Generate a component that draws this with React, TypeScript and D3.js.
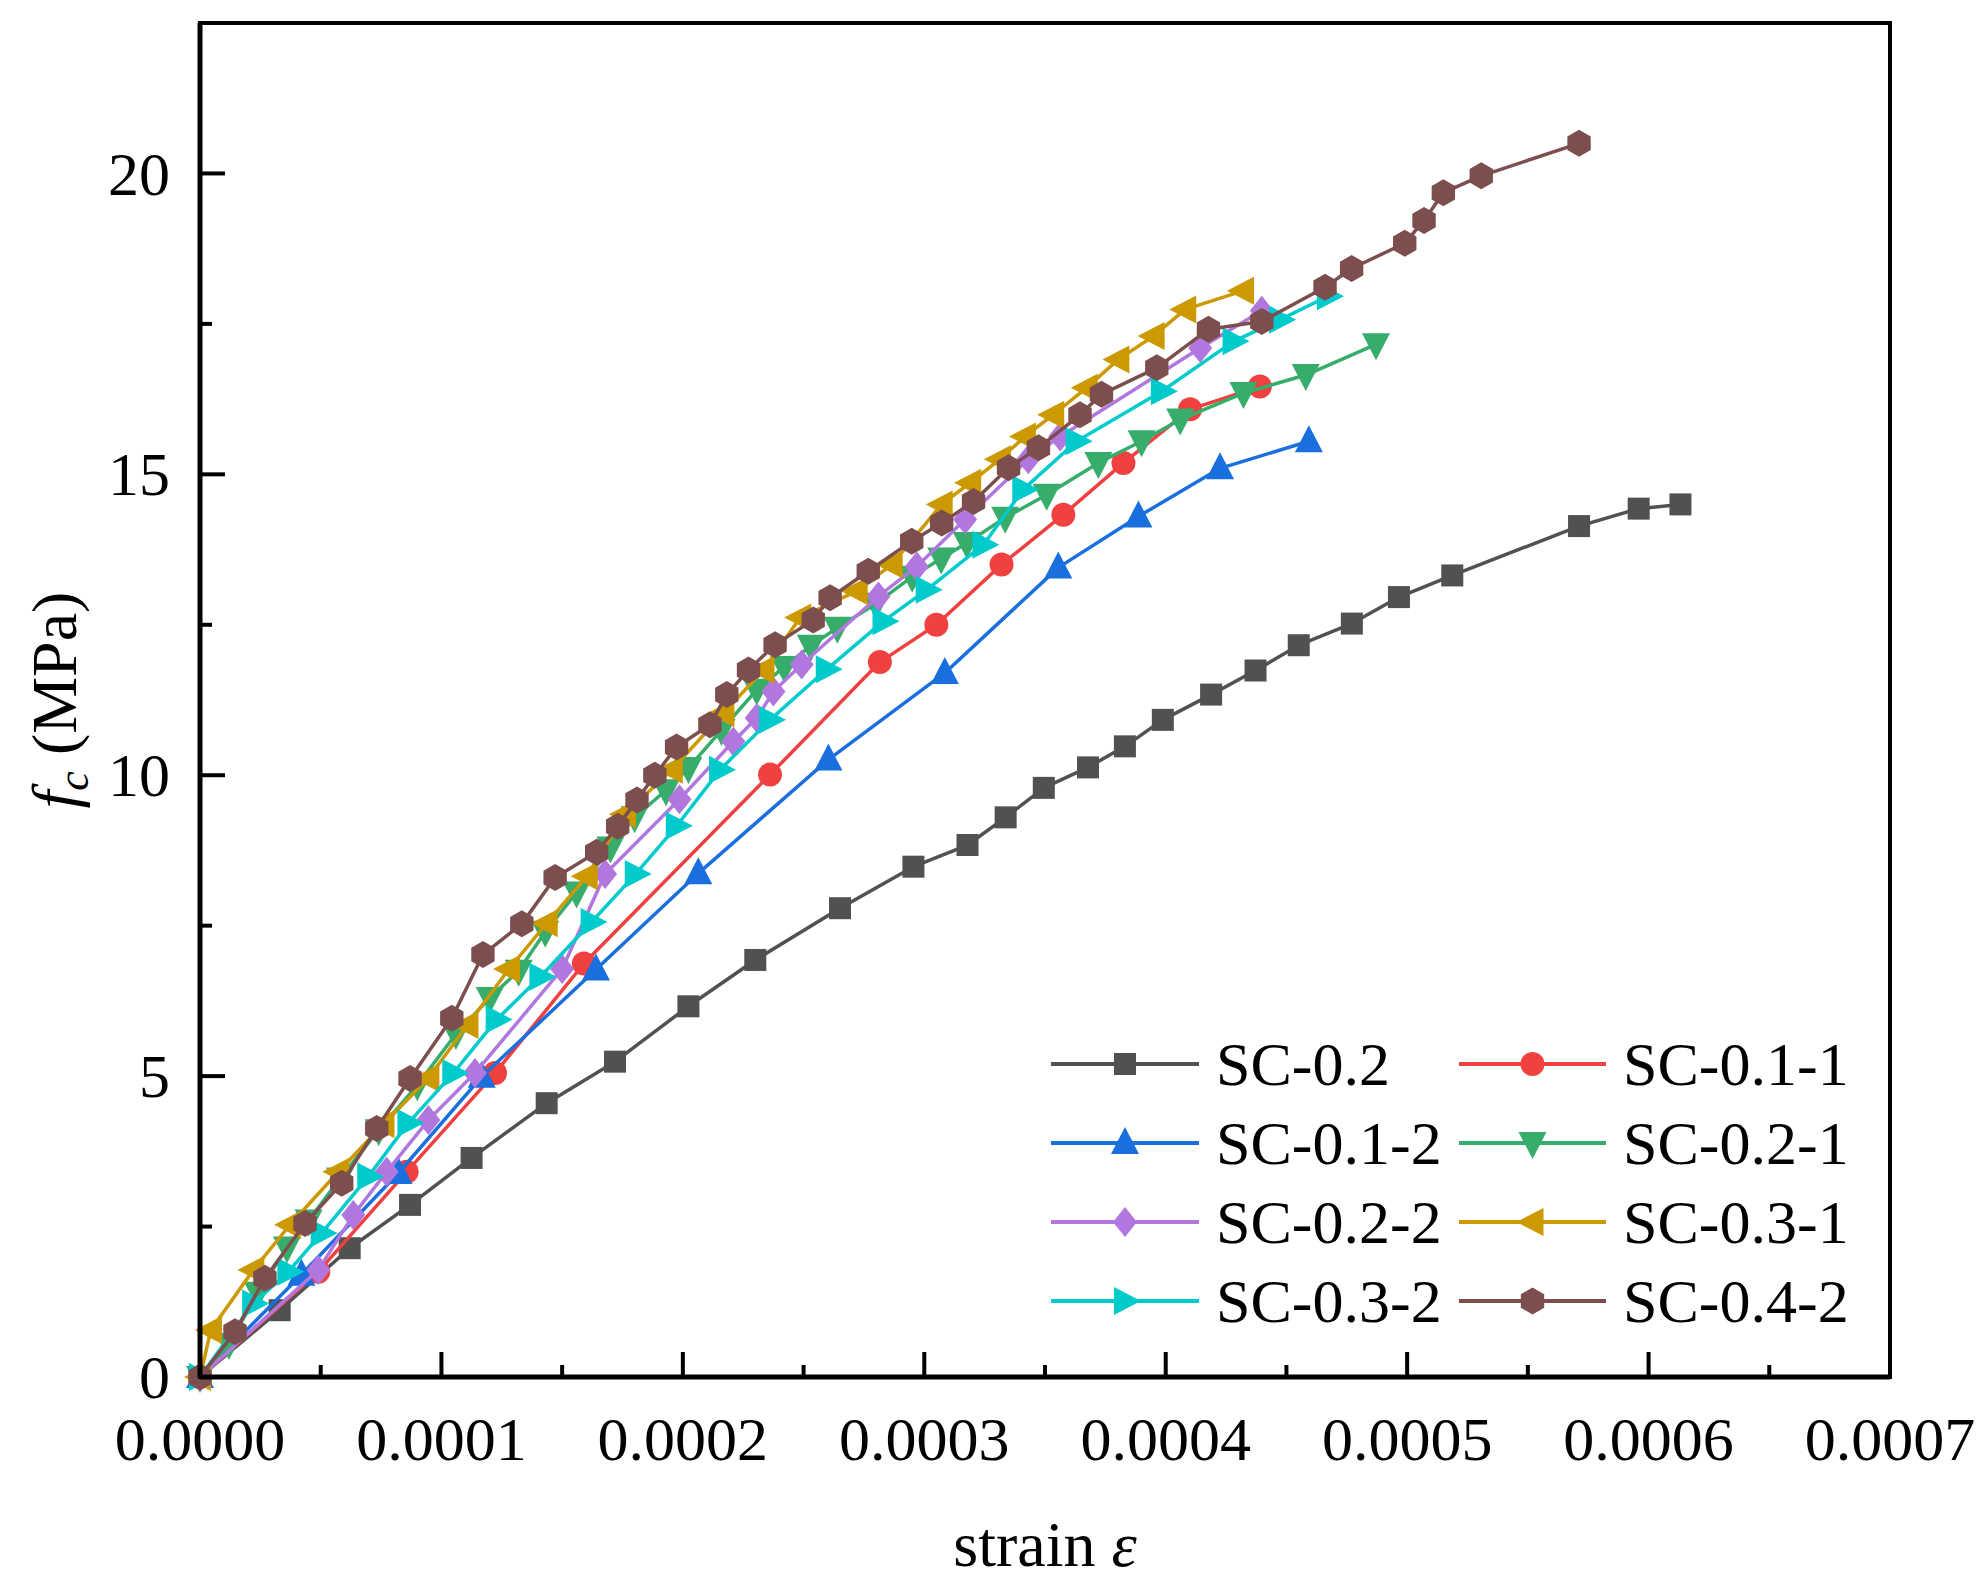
import * as d3 from "d3"

// strain in units of 1e-4, stress fc in MPa
const sc02: [number, number][] = [
  [0, 0], [0.33, 1.11], [0.62, 2.14], [0.87, 2.86], [1.125, 3.64], [1.436, 4.55],
  [1.719, 5.24], [2.023, 6.16], [2.3, 6.93], [2.651, 7.79], [2.955, 8.48], [3.179, 8.84],
  [3.337, 9.3], [3.495, 9.79], [3.678, 10.13], [3.831, 10.48], [3.988, 10.92], [4.188, 11.34],
  [4.372, 11.74], [4.551, 12.16], [4.771, 12.52], [4.966, 12.96], [5.187, 13.32], [5.712, 14.14],
  [5.959, 14.43], [6.132, 14.5],
]
const sc011: [number, number][] = [
  [0, 0], [0.49, 1.75], [0.856, 3.41], [1.222, 5.05], [1.59, 6.87], [2.361, 10.01],
  [2.816, 11.88], [3.05, 12.5], [3.32, 13.5], [3.576, 14.33], [3.825, 15.19], [4.101, 16.08],
  [4.39, 16.46],
]
const sc012: [number, number][] = [
  [0, 0], [0.42, 1.7], [0.822, 3.39], [1.167, 4.99], [1.64, 6.77], [2.064, 8.37],
  [2.603, 10.26], [3.085, 11.7], [3.555, 13.45], [3.887, 14.3], [4.225, 15.1], [4.593, 15.55],
]
const sc021: [number, number][] = [
  [0, 0], [0.12, 0.55], [0.24, 1.4], [0.36, 2.15], [0.45, 2.6], [0.58, 3.3], [0.74, 4.1],
  [0.9, 4.85], [1.06, 5.7], [1.2, 6.3], [1.32, 6.75], [1.43, 7.4], [1.56, 8.05], [1.7, 8.8],
  [1.8, 9.3], [1.93, 9.75], [2.023, 10.12], [2.16, 10.75], [2.306, 11.42], [2.42, 11.8],
  [2.53, 12.15], [2.64, 12.45], [2.8, 12.85], [2.95, 13.3], [3.07, 13.6], [3.176, 13.86],
  [3.335, 14.28], [3.507, 14.66], [3.721, 15.19], [3.9, 15.55], [4.06, 15.91], [4.322, 16.35],
  [4.58, 16.65], [4.871, 17.16],
]
const sc022: [number, number][] = [
  [0, 0], [0.49, 1.78], [0.635, 2.69], [0.773, 3.41], [0.946, 4.27], [1.139, 5.05],
  [1.5, 6.78], [1.678, 8.36], [1.986, 9.6], [2.209, 10.56], [2.306, 10.95], [2.375, 11.39],
  [2.492, 11.84], [2.81, 12.97], [2.969, 13.47], [3.169, 14.25], [3.431, 15.25], [3.563, 15.63],
  [4.143, 17.1], [4.398, 17.72],
]
const sc031: [number, number][] = [
  [0, 0], [0.045, 0.78], [0.221, 1.78], [0.373, 2.53], [0.573, 3.41], [0.76, 4.2],
  [0.946, 4.97], [1.108, 5.85], [1.28, 6.78], [1.436, 7.54], [1.602, 8.32], [1.76, 9.35],
  [1.954, 10.09], [2.168, 11.03], [2.334, 11.75], [2.486, 12.62], [2.72, 13.06], [2.865, 13.5],
  [3.072, 14.5], [3.19, 14.86], [3.313, 15.25], [3.417, 15.63], [3.534, 15.99], [3.673, 16.44],
  [3.804, 16.91], [3.95, 17.3], [4.081, 17.74], [4.32, 18.05],
]
const sc032: [number, number][] = [
  [0, 0], [0.22, 1.22], [0.366, 1.75], [0.504, 2.39], [0.697, 3.33], [0.863, 4.22],
  [1.049, 5.05], [1.229, 5.94], [1.41, 6.65], [1.622, 7.56], [1.805, 8.36], [1.975, 9.16],
  [2.154, 10.09], [2.361, 10.92], [2.596, 11.76], [2.831, 12.56], [3.01, 13.08], [3.245, 13.83],
  [3.41, 14.75], [3.631, 15.55], [3.984, 16.38], [4.281, 17.21], [4.474, 17.57], [4.672, 17.96],
]
const sc042: [number, number][] = [
  [0, 0], [0.145, 0.75], [0.269, 1.64], [0.435, 2.55], [0.587, 3.22], [0.732, 4.13],
  [0.87, 4.96], [1.043, 5.96], [1.172, 7.02], [1.333, 7.53], [1.471, 8.3], [1.643, 8.72],
  [1.73, 9.15], [1.81, 9.59], [1.884, 10.0], [1.974, 10.47], [2.112, 10.84], [2.182, 11.34],
  [2.272, 11.75], [2.382, 12.17], [2.54, 12.58], [2.61, 12.95], [2.768, 13.39], [2.948, 13.89],
  [3.072, 14.19], [3.204, 14.55], [3.349, 15.11], [3.473, 15.44], [3.645, 15.99], [3.734, 16.33],
  [3.963, 16.77], [4.177, 17.41], [4.398, 17.54], [4.66, 18.11], [4.77, 18.42], [4.99, 18.84],
  [5.07, 19.22], [5.15, 19.68], [5.307, 19.96], [5.712, 20.5],
]

const NAMES = ["SC-0.2", "SC-0.1-1", "SC-0.1-2", "SC-0.2-1", "SC-0.2-2", "SC-0.3-1", "SC-0.3-2", "SC-0.4-2"]
const COLORS = ["#515151", "#F14040", "#1A6FDF", "#37AD6B", "#B177DE", "#CC9900", "#00CBCC", "#7D4E4E"]
const SHAPES = ["square", "circle", "up", "down", "diamond", "left", "right", "hexagon"]
const SERIES = [sc02, sc011, sc012, sc021, sc022, sc031, sc032, sc042]

const X_TICKS = [0, 0.0001, 0.0002, 0.0003, 0.0004, 0.0005, 0.0006, 0.0007]
const Y_TICKS = [0, 5, 10, 15, 20]

const W = 1986
const H = 1582
const M = { left: 200, right: 96, top: 23, bottom: 205 }
const FONT = "'Liberation Serif', 'Times New Roman', serif"

function markerPath(shape: string): string {
  const s = 11
  switch (shape) {
    case "square":
      return `M${-s},${-s}H${s}V${s}H${-s}Z`
    case "circle":
      return `M${-12},0A12,12 0 1,0 12,0A12,12 0 1,0 -12,0Z`
    case "up":
      return `M0,-16L14,11L-14,11Z`
    case "down":
      return `M0,16L14,-11L-14,-11Z`
    case "left":
      return `M-16,0L11,-14L11,14Z`
    case "right":
      return `M16,0L-11,-14L-11,14Z`
    case "diamond":
      return `M0,-15L12,0L0,15L-12,0Z`
    case "hexagon": {
      const r = 13.5
      const pts = d3.range(6).map((i) => {
        const a = (Math.PI / 3) * i - Math.PI / 2
        return `${(r * Math.cos(a)).toFixed(2)},${(r * Math.sin(a)).toFixed(2)}`
      })
      return `M${pts.join("L")}Z`
    }
  }
  return ""
}

export default function App() {
  const x = d3.scaleLinear().domain([0, 0.0007]).range([M.left, W - M.right])
  const y = d3.scaleLinear().domain([0, 22.5]).range([H - M.bottom, M.top])
  const line = d3
    .line<[number, number]>()
    .x((d) => x(d[0] * 1e-4))
    .y((d) => y(d[1]))

  const x0 = x.range()[0]
  const x1 = x.range()[1]
  const y0 = y.range()[0]
  const y1 = y.range()[1]
  const xMinor = d3.range(0.00005, 0.0007, 0.0001)
  const yMinor = d3.range(2.5, 22.5, 5)

  const legendRows = [1064, 1143, 1222, 1301]
  const legendCols = [{ l: 1051, r: 1199, t: 1216 }, { l: 1459, r: 1606, t: 1623 }]

  return (
    <svg
      width={W}
      height={H}
      style={{ position: "absolute", left: 0, top: 0, background: "#fff" }}
      fontFamily={FONT}
    >
      <rect x={0} y={0} width={W} height={H} fill="#fff" />

      {SERIES.map((data, i) => (
        <g key={NAMES[i]}>
          <path d={line(data) ?? ""} fill="none" stroke={COLORS[i]} strokeWidth={3.5} strokeLinejoin="round" />
          {data.map((d, j) => (
            <path
              key={j}
              d={markerPath(SHAPES[i])}
              transform={`translate(${x(d[0] * 1e-4)},${y(d[1])})`}
              fill={COLORS[i]}
            />
          ))}
        </g>
      ))}

      {/* frame */}
      <rect x={x0} y={y1} width={x1 - x0} height={y0 - y1} fill="none" stroke="#000" strokeWidth={4} />
      <line x1={x0} x2={x1} y1={y0} y2={y0} stroke="#000" strokeWidth={5} />
      <line x1={x0} x2={x0} y1={y0} y2={y1} stroke="#000" strokeWidth={5} />

      {/* x ticks */}
      {X_TICKS.map((t) => (
        <g key={t}>
          <line x1={x(t)} x2={x(t)} y1={y0} y2={y0 - 25} stroke="#000" strokeWidth={4} />
          <text x={x(t)} y={y0 + 83} textAnchor="middle" fontSize={62}>
            {t.toFixed(4)}
          </text>
        </g>
      ))}
      {xMinor.map((t) => (
        <line key={t} x1={x(t)} x2={x(t)} y1={y0} y2={y0 - 12} stroke="#000" strokeWidth={4} />
      ))}

      {/* y ticks */}
      {Y_TICKS.map((t) => (
        <g key={t}>
          <line x1={x0} x2={x0 + 25} y1={y(t)} y2={y(t)} stroke="#000" strokeWidth={4} />
          <text x={x0 - 30} y={y(t)} dy="0.34em" textAnchor="end" fontSize={62}>
            {t}
          </text>
        </g>
      ))}
      {yMinor.map((t) => (
        <line key={t} x1={x0} x2={x0 + 12} y1={y(t)} y2={y(t)} stroke="#000" strokeWidth={4} />
      ))}

      {/* axis titles */}
      <text x={(x0 + x1) / 2} y={1566} textAnchor="middle" fontSize={64}>
        strain <tspan fontStyle="italic">ε</tspan>
      </text>
      <text transform={`translate(76,${(y0 + y1) / 2}) rotate(-90)`} textAnchor="middle" fontSize={64}>
        <tspan fontStyle="italic">f</tspan>
        <tspan fontStyle="italic" fontSize={44} dy={12}>c</tspan>
        <tspan dy={-12}> (MPa)</tspan>
      </text>

      {/* legend */}
      {NAMES.map((name, i) => {
        const row = legendRows[Math.floor(i / 2)]
        const col = legendCols[i % 2]
        const cx = (col.l + col.r) / 2
        return (
          <g key={name}>
            <line x1={col.l} x2={col.r} y1={row} y2={row} stroke={COLORS[i]} strokeWidth={4} />
            <path d={markerPath(SHAPES[i])} transform={`translate(${cx},${row})`} fill={COLORS[i]} />
            <text x={col.t} y={row + 21} fontSize={62}>
              {name}
            </text>
          </g>
        )
      })}
    </svg>
  )
}
